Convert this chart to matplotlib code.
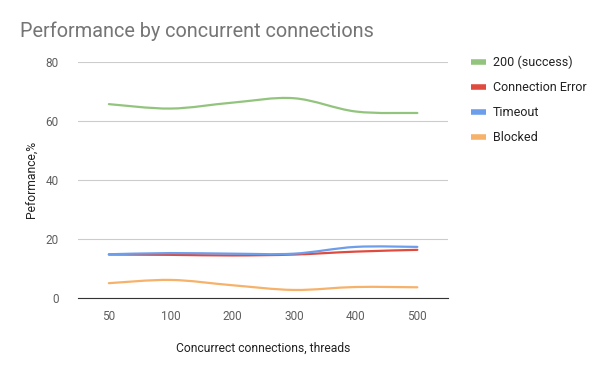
import matplotlib
matplotlib.use("Agg")
import matplotlib.pyplot as plt
from matplotlib.path import Path
from matplotlib.patches import PathPatch

plt.rcParams['font.family'] = ['Roboto', 'DejaVu Sans']

threads = ["50", "100", "200", "300", "400", "500"]
success = [65.7, 64.2, 66.2, 67.7, 63.2, 62.7]
conn_error = [14.7, 14.6, 14.4, 14.7, 15.7, 16.3]
timeout = [14.8, 15.2, 15.0, 15.0, 17.3, 17.3]
blocked = [5.0, 6.1, 4.3, 2.7, 3.7, 3.6]

series = [
    ("200 (success)", success, "#93c47d"),
    ("Connection Error", conn_error, "#e04b3f"),
    ("Timeout", timeout, "#6d9eeb"),
    ("Blocked", blocked, "#f6b26b"),
]


# smooth curve through the points (cubic bezier, catmull-rom style tangents)
def smoothPath(ys):
    xs = list(range(len(ys)))
    verts = [(xs[0], ys[0])]
    codes = [Path.MOVETO]
    n = len(ys)
    for i in range(n - 1):
        x0, y0 = xs[max(i - 1, 0)], ys[max(i - 1, 0)]
        x1, y1 = xs[i], ys[i]
        x2, y2 = xs[i + 1], ys[i + 1]
        x3, y3 = xs[min(i + 2, n - 1)], ys[min(i + 2, n - 1)]
        c1 = (x1 + (x2 - x0) / 6, y1 + (y2 - y0) / 6)
        c2 = (x2 - (x3 - x1) / 6, y2 - (y3 - y1) / 6)
        verts += [c1, c2, (x2, y2)]
        codes += [Path.CURVE4] * 3
    return Path(verts, codes)


fig = plt.figure(figsize=(6, 3.71), dpi=100)
ax = fig.add_axes([0.13, 0.197, 0.617, 0.636])

for name, ys, col in series:
    ax.add_patch(PathPatch(smoothPath(ys), facecolor="none", edgecolor=col, lw=1.6,
                           capstyle="round", joinstyle="round"))
    ax.plot([], [], color=col, lw=4, solid_capstyle="butt", label=name)

ax.set_xlim(-0.5, len(threads) - 0.5)
ax.set_ylim(0, 80)
ax.set_xticks(range(len(threads)))
ax.set_xticklabels(threads)
ax.set_yticks([0, 20, 40, 60, 80])
ax.grid(axis="y", color="#cccccc", lw=0.8)
ax.set_axisbelow(True)
for s in ["top", "right", "left"]:
    ax.spines[s].set_visible(False)
ax.spines["bottom"].set_color("#333333")
ax.tick_params(length=0, labelsize=8.5, colors="#5f5f5f", pad=9)
ax.tick_params(axis="y", pad=14)

ax.set_xlabel("Concurrect connections, threads", fontsize=8.7, color="#222222", labelpad=13)
ax.set_ylabel("Peformance,%", fontsize=8.7, color="#222222", labelpad=5)

fig.text(0.033, 0.915, "Performance by concurrent connections", fontsize=14.3,
         color="#757575", va="center")

leg = ax.legend(loc="upper left", bbox_to_anchor=(1.032, 1.075), frameon=False,
                fontsize=9, handlelength=1.15, labelspacing=0.97, handletextpad=0.55)
for t in leg.get_texts():
    t.set_color("#222222")

fig.savefig("out.png", dpi=100)
